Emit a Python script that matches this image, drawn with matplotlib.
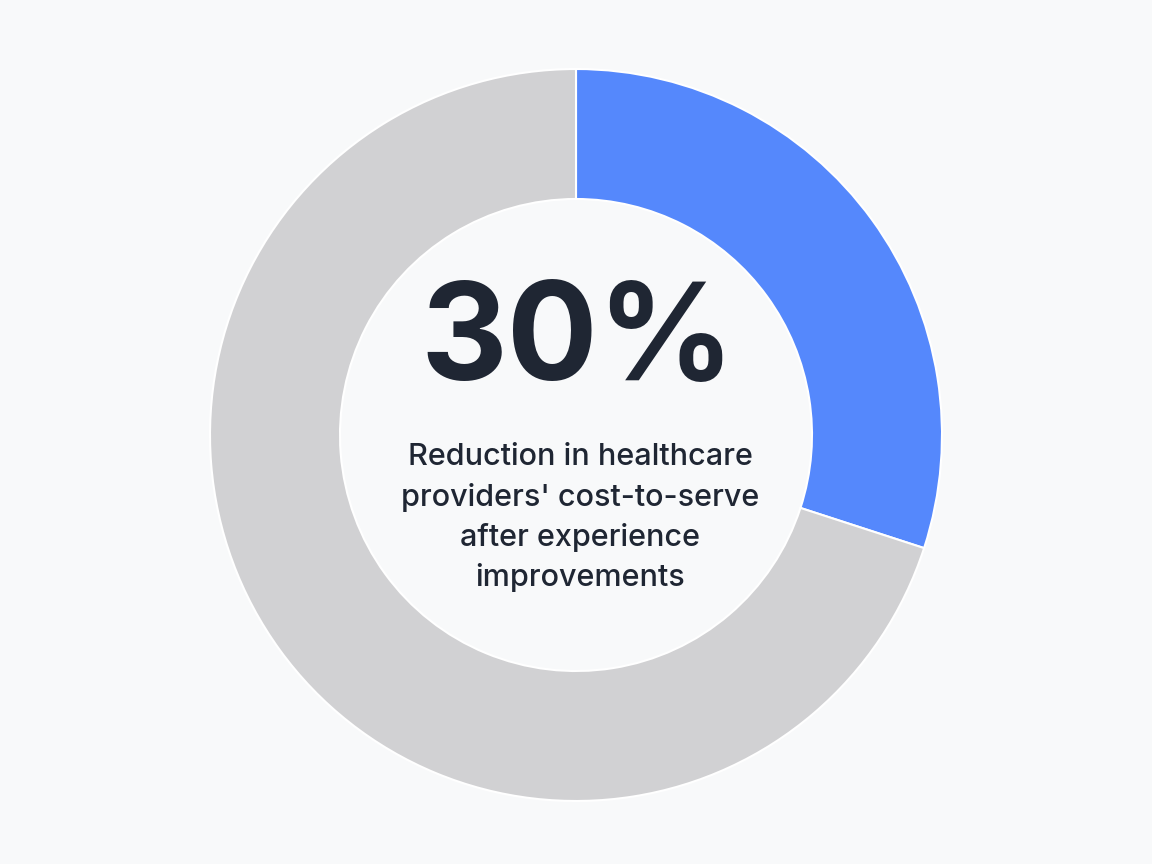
import matplotlib
matplotlib.use("Agg")
import matplotlib.pyplot as plt

labels = ["Reduction", "Remaining"]
values = [30, 70]
colors = ["#5588fc", "#d1d1d3"]
big_text = "30%"
sub_lines = ["Reduction in healthcare", "providers' cost-to-serve", "after experience", "improvements"]

fig = plt.figure(figsize=(11.52, 8.64), dpi=100, facecolor="#f8f9fa")
ax = fig.add_axes([0, 0, 1, 1])
ax.set_facecolor("#f8f9fa")

ax.pie(values, colors=colors, startangle=90, counterclock=False,
       center=(576, 429), radius=366, frame=True,
       wedgeprops=dict(width=366 - 236, edgecolor="white", linewidth=1.5))
ax.set_xlim(0, 1152)
ax.set_ylim(0, 864)
ax.set_aspect("equal")
ax.axis("off")

ax.text(578, 864 - 345, big_text, ha="center", va="center", fontsize=97,
        fontweight="bold", family=["Inter", "DejaVu Sans"], color="#1f2633")
for i, line in enumerate(sub_lines):
    ax.text(580, 864 - (457 + 40 * i), line, ha="center", va="center", fontsize=22,
            fontweight="medium", family=["Inter", "DejaVu Sans"], color="#1f2633")

fig.savefig("out.png", dpi=100, facecolor=fig.get_facecolor())
